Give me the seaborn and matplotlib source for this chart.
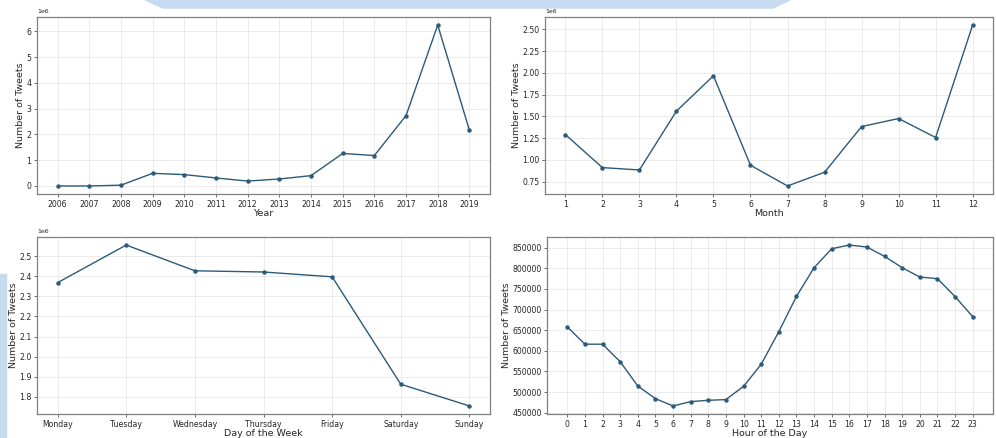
import numpy as np
import pandas as pd
import matplotlib
matplotlib.use('Agg')
import matplotlib.pyplot as plt
import matplotlib.patches as mpatches
import seaborn as sns

# data
years = list(range(2006, 2020))
tweets_year = [0.00, 0.00, 0.03, 0.49, 0.44, 0.31, 0.19, 0.27, 0.40, 1.26, 1.18, 2.73, 6.24, 2.16]  # x1e6

months = list(range(1, 13))
tweets_month = [1.291, 0.911, 0.884, 1.560, 1.967, 0.938, 0.700, 0.857, 1.383, 1.475, 1.257, 2.550]  # x1e6

days = ['Monday', 'Tuesday', 'Wednesday', 'Thursday', 'Friday', 'Saturday', 'Sunday']
tweets_day = [2.368, 2.555, 2.427, 2.421, 2.397, 1.863, 1.755]  # x1e6

hours = list(range(24))
tweets_hour = [658000, 616000, 616000, 573600, 514600, 484000, 466200, 476700,
               480000, 481600, 513800, 567200, 646400, 732000, 801500, 847600,
               856500, 851600, 829000, 801500, 778900, 775000, 731300, 682800]

sns.set_style('whitegrid')
plt.rcParams['font.family'] = ['DejaVu Sans']

fig = plt.figure(figsize=(9.96, 4.38), dpi=100)

# light blue page decoration
W, H = 996, 438
def fx(px):
    return px / W
def fy(py):
    return 1 - py / H
banner = mpatches.Polygon([(fx(145), fy(0)), (fx(790), fy(0)), (fx(773), fy(8)), (fx(163), fy(8))],
                          closed=True, transform=fig.transFigure, color='#c6dbef', zorder=0)
fig.patches.append(banner)
strip = mpatches.Rectangle((0, 0), fx(6), fy(274), transform=fig.transFigure, color='#c6dbef', zorder=0)
fig.patches.append(strip)

line_color = '#2c5a7a'

def make_ax(l, r, t, b):
    return fig.add_axes([fx(l), fy(b), fx(r) - fx(l), fy(t) - fy(b)])

ax1 = make_ax(37, 490, 17, 194)
ax2 = make_ax(545, 993, 17, 194)
ax3 = make_ax(37, 490, 237, 414)
ax4 = make_ax(547, 993, 237, 414)

df_year = pd.DataFrame({'Year': years, 'Tweets': np.array(tweets_year) * 1e6})
df_month = pd.DataFrame({'Month': months, 'Tweets': np.array(tweets_month) * 1e6})
df_day = pd.DataFrame({'Day': days, 'Tweets': np.array(tweets_day) * 1e6})
df_hour = pd.DataFrame({'Hour': hours, 'Tweets': tweets_hour})

sns.lineplot(data=df_year, x='Year', y='Tweets', marker='o', ax=ax1)
sns.lineplot(data=df_month, x='Month', y='Tweets', marker='o', ax=ax2)
sns.lineplot(data=df_day, x='Day', y='Tweets', marker='o', ax=ax3)
sns.lineplot(data=df_hour, x='Hour', y='Tweets', marker='o', ax=ax4)

ax1.set_xticks(years)
ax2.set_xticks(months)
ax4.set_xticks(hours)

labels = ['Year', 'Month', 'Day of the Week', 'Hour of the Day']
for ax, lab in zip([ax1, ax2, ax3, ax4], labels):
    for ln in ax.get_lines():
        ln.set_color(line_color)
        ln.set_linewidth(1.0)
        ln.set_markersize(3.2)
        ln.set_markeredgewidth(0)
    ax.set_xlabel(lab, fontsize=6.8, labelpad=0)
    ax.set_ylabel('Number of Tweets', fontsize=6.8, labelpad=1)
    ax.tick_params(axis='both', labelsize=5.6, length=2.5, width=0.6, pad=1.5, color='#555555', left=True, bottom=True)
    ax.grid(True, color='#e8e8e8', linewidth=0.6)
    for sp in ax.spines.values():
        sp.set_color('#808080')
        sp.set_linewidth(0.9)
    ax.yaxis.get_offset_text().set_fontsize(4.5)

ax4.ticklabel_format(axis='y', style='plain')

fig.savefig('out.png', dpi=100)
